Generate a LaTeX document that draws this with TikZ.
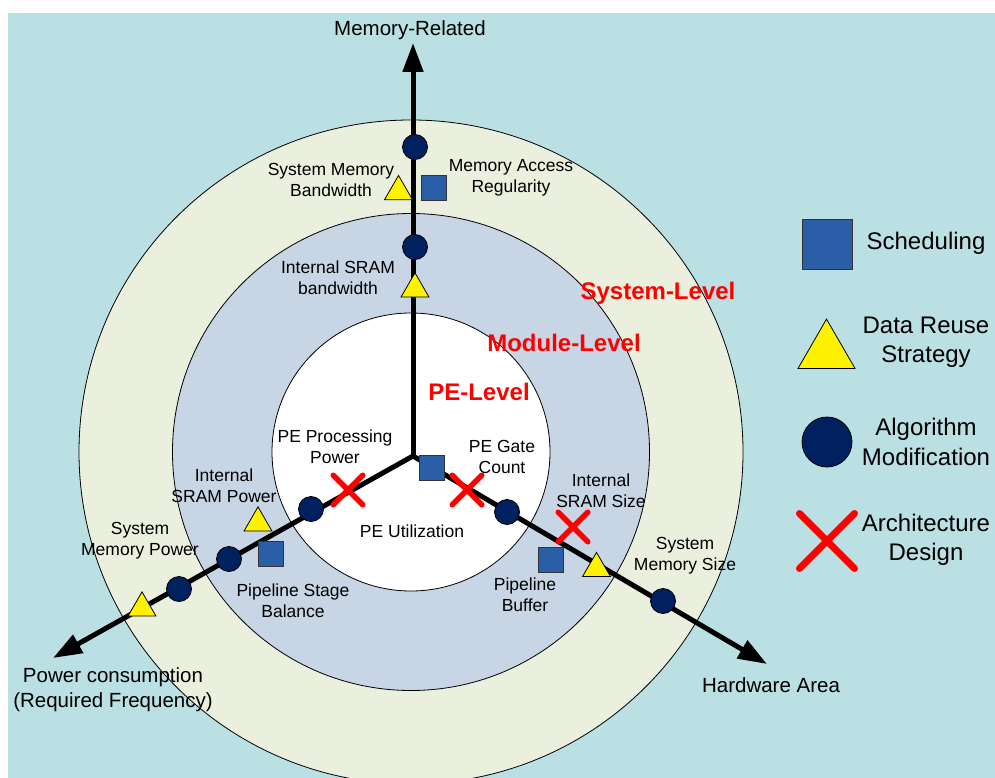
\documentclass[tikz,border=0pt]{standalone}
\usepackage{fontspec}
\setmainfont{Liberation Sans}
\usetikzlibrary{arrows.meta,shapes.geometric,shapes.misc}

\definecolor{bgblue}{RGB}{186,224,227}
\definecolor{sysring}{RGB}{235,240,222}
\definecolor{modring}{RGB}{200,213,229}
\definecolor{navy}{RGB}{0,32,96}
\definecolor{schedblue}{RGB}{42,94,166}

\begin{document}
\begin{tikzpicture}[x=1pt,y=-1pt,
  ring/.style={draw=black, line width=0.8pt},
  axis/.style={line width=5pt, -{Triangle[length=29pt,width=20pt]}},
  algo/.style={circle, draw=black, line width=0.8pt, fill=navy, inner sep=0pt, minimum size=25pt},
  sched/.style={rectangle, draw=black!80, line width=0.8pt, fill=schedblue, inner sep=0pt, minimum size=25pt},
  reuse/.style={regular polygon, regular polygon sides=3, draw=black, line width=0.8pt, fill=yellow, inner sep=0pt, minimum size=32.3pt},
  arch/.style={cross out, draw=red, line width=5.5pt, line cap=round, inner sep=0pt, minimum size=24pt},
  lbl/.style={align=center, inner sep=0pt, font=\fontsize{17.5}{21}\selectfont},
  axlbl/.style={align=center, inner sep=0pt, font=\fontsize{20.5}{25}\selectfont},
  lvl/.style={inner sep=0pt, text=red, font=\fontsize{24}{28}\selectfont\bfseries},
  legtxt/.style={align=center, inner sep=0pt, font=\fontsize{24}{29.5}\selectfont},
]
\useasboundingbox (0,0) rectangle (995,778);

% background and the three level discs
\begin{scope}
  \clip (8,13) rectangle (995,778);
  \fill[bgblue] (8,13) rectangle (995,778);
  \filldraw[ring, fill=sysring] (411,452) circle[radius=332];
  \filldraw[ring, fill=modring] (411,452) circle[radius=238.5];
  \filldraw[ring, fill=white] (411,452) circle[radius=139];
\end{scope}

% axes
\coordinate (o) at (413,456);
\coordinate (upTip) at (413,43);
\coordinate (leftTip) at (53,658);
\coordinate (rightTip) at (767,664);
\draw[axis] (o) -- (upTip);
\draw[axis] (o) -- (leftTip);
\draw[axis] (o) -- (rightTip);

% level names
\node[lvl] (sysLevel) at (658,293) {System-Level};
\node[lvl] (modLevel) at (564,343) {Module-Level};
\node[lvl] (peLevel) at (479,392) {PE-Level};

% memory-related axis
\node[algo] (mA1) at (415,147) {};
\node[reuse] (mR1) at (398.5,191.6) {};
\node[sched] (mS1) at (433.5,187.5) {};
\node[algo] (mA2) at (415,247) {};
\node[reuse] (mR2) at (415,289) {};

% power axis
\node[arch] (pX1) at (348,490) {};
\node[algo] (pA1) at (311,509) {};
\node[reuse] (pR1) at (258,523) {};
\node[sched] (pS1) at (271,554) {};
\node[algo] (pA2) at (229,559) {};
\node[algo] (pA3) at (179,589) {};
\node[reuse] (pR2) at (142,608) {};

% hardware area axis
\node[sched] (hS1) at (432,467.5) {};
\node[arch] (hX1) at (467,490) {};
\node[algo] (hA1) at (507,512) {};
\node[arch] (hX2) at (573,527) {};
\node[sched] (hS2) at (551,559.5) {};
\node[reuse] (hR1) at (596.5,568.5) {};
\node[algo] (hA2) at (663,601) {};

% axis names
\node[axlbl] (memName) at (410,30) {Memory-Related};
\node[axlbl] (powName) at (113,690) {Power consumption\\(Required Frequency)};
\node[axlbl] (hwName) at (771,685) {Hardware Area};

% item labels
\node[lbl] (tSysBw) at (331,180) {System Memory\\Bandwidth};
\node[lbl] (tMemAcc) at (511,178) {Memory Access\\Regularity};
\node[lbl] (tSramBw) at (338,278) {Internal SRAM\\bandwidth};
\node[lbl] (tPeProc) at (335,447) {PE Processing\\Power};
\node[lbl] (tPeGate) at (502,457) {PE Gate\\Count};
\node[lbl] (tPeUtil) at (412,531) {PE Utilization};
\node[lbl] (tSramPow) at (224,486) {Internal\\SRAM Power};
\node[lbl] (tSysPow) at (140,541) {System\\Memory Power};
\node[lbl] (tPipeBal) at (293,601) {Pipeline Stage\\Balance};
\node[lbl] (tSramSize) at (601,491) {Internal\\SRAM Size};
\node[lbl] (tSysSize) at (685,556) {System\\Memory Size};
\node[lbl] (tPipeBuf) at (525,595) {Pipeline\\Buffer};

% legend
\node[sched, minimum size=50pt] (kS) at (827,244) {};
\node[legtxt] (kSt) at (926,243) {Scheduling};
\node[reuse, minimum size=65.8pt] (kR) at (826.5,352) {};
\node[legtxt] (kRt) at (926,342) {Data Reuse\\Strategy};
\node[algo, minimum size=50pt] (kA) at (827,442) {};
\node[legtxt] (kAt) at (926,442) {Algorithm\\Modification};
\node[arch, minimum size=48pt, line width=7pt] (kX) at (827,541) {};
\node[legtxt] (kXt) at (926,540) {Architecture\\Design};
\end{tikzpicture}
\end{document}
